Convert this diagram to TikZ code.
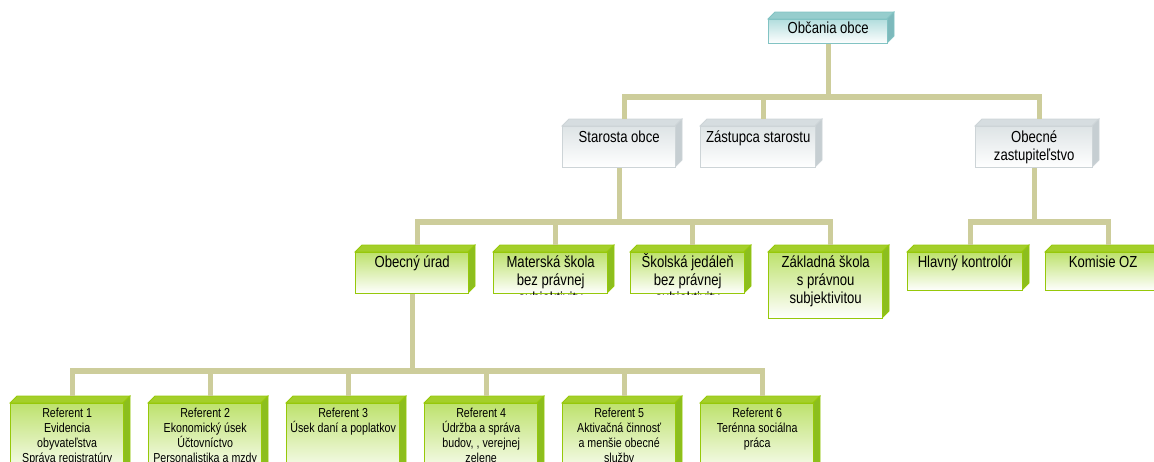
\documentclass[tikz,border=0pt]{standalone}
\usepackage{fontspec}
\setmainfont{Liberation Sans}[FakeStretch=0.82]
\usetikzlibrary{calc,positioning}
\definecolor{linkcol}{RGB}{205,205,155}
\definecolor{greenedge}{RGB}{150,200,10}
\definecolor{greentop}{RGB}{164,207,42}
\definecolor{greenside}{RGB}{140,190,30}
\definecolor{greenfill}{RGB}{190,226,110}
\definecolor{grayedge}{RGB}{205,212,215}
\definecolor{graytop}{RGB}{214,221,224}
\definecolor{grayside}{RGB}{198,206,210}
\definecolor{grayfill}{RGB}{222,228,230}
\definecolor{tealedge}{RGB}{130,195,195}
\definecolor{tealtop}{RGB}{150,205,205}
\definecolor{tealside}{RGB}{125,185,188}
\definecolor{tealfill}{RGB}{180,222,222}
\newcommand{\lblfont}{\fontsize{12}{13.5}\selectfont}
\newcommand{\reffont}{\fontsize{9.75}{11.25}\selectfont}
% box with top and right bevel: kind, name, x, y, w, h, text options, text
\newcommand{\cubenode}[8]{
	\filldraw[fill=#1top,draw=#1edge,line width=0.6pt] (#3,#4) -- ++(7,-7) -- ++(#5,0) -- ++(-7,7) -- cycle;
	\filldraw[fill=#1side,draw=#1edge,line width=0.6pt] (#3+#5,#4) -- ++(7,-7) -- ++(0,#6) -- ++(-7,7) -- cycle;
	\node[cube,draw=#1edge,top color=#1fill,bottom color=white,minimum width=#5*0.75pt,minimum height=#6*0.75pt] (#2) at (#3,#4) {};
	\begin{scope}
		\clip (#2.south west) rectangle (#2.north east);
		\node[cubetext,#7] (#2-t) at (#2.north) {\parbox[t]{\dimexpr #5pt*3/4\relax}{\centering #8}};
	\end{scope}
}

\begin{document}
\begin{tikzpicture}[x=0.75pt,y=-0.75pt,
	link/.style={draw=linkcol,line width=4pt},
	cube/.style={anchor=north west,inner sep=0pt,line width=1pt},
	cubetext/.style={anchor=north,inner sep=0pt,text height=9pt,font=\lblfont}]
	\useasboundingbox (0,0) rectangle (1154,461);
	\coordinate (bus1) at (0,97);
	\coordinate (bus2) at (0,222);
	\coordinate (bus3) at (0,371);
	\cubenode{teal}{obcania}{768}{19}{119}{24}{yshift=-1.5pt}{Občania obce}
	\cubenode{gray}{starosta}{562}{126}{113}{41}{yshift=-3pt}{Starosta obce}
	\cubenode{gray}{zastupca}{700}{126}{115}{41}{yshift=-3pt}{Zástupca starostu}
	\cubenode{gray}{oz}{975}{126}{117}{41}{yshift=-3pt}{Obecné\\zastupiteľstvo}
	\foreach \nm in {starosta,zastupca,oz}
		\draw[link] (obcania.south) -- (obcania.south |- bus1) -| ($(\nm.north)+(5,-7)$);
	\cubenode{green}{urad}{355}{252}{113}{41}{yshift=-2.5pt}{Obecný úrad}
	\cubenode{green}{materska}{493}{252}{114}{41}{yshift=-2.5pt}{Materská škola\\bez právnej\\subjektivity}
	\cubenode{green}{jedalen}{630}{252}{114}{41}{yshift=-2.5pt}{Školská jedáleň\\bez právnej\\subjektivity}
	\cubenode{green}{zakladna}{768}{252}{114}{66}{yshift=-2.5pt}{Základná škola\\s právnou\\subjektivitou}
	\cubenode{green}{kontrolor}{907}{252}{115}{38}{yshift=-2.5pt}{Hlavný kontrolór}
	\cubenode{green}{komisie}{1045}{252}{115}{38}{yshift=-2.5pt}{Komisie OZ}
	\foreach \nm in {urad,materska,jedalen,zakladna}
		\draw[link] (starosta.south) -- (starosta.south |- bus2) -| ($(\nm.north)+(5,-7)$);
	\foreach \nm in {kontrolor,komisie}
		\draw[link] (oz.south) -- (oz.south |- bus2) -| ($(\nm.north)+(5,-7)$);
	\foreach \i/\txt in {1/{Evidencia\\obyvateľstva\\Správa registratúry},2/{Ekonomický úsek\\Účtovníctvo\\Personalistika a mzdy},3/{Úsek daní a poplatkov},4/{Údržba a správa\\budov, , verejnej\\zelene},5/{Aktivačná činnosť\\a menšie obecné\\služby},6/{Terénna sociálna\\práca}} {
		\pgfmathsetmacro{\xpos}{10+138*(\i-1)}
		\cubenode{green}{ref\i}{\xpos}{403}{113}{75}{font=\reffont,text height=7.5pt,yshift=-3pt}{Referent \i\\\txt}
		\draw[link] (urad.south) -- (urad.south |- bus3) -| ($(ref\i.north)+(5,-7)$);
	}
\end{tikzpicture}
\end{document}
